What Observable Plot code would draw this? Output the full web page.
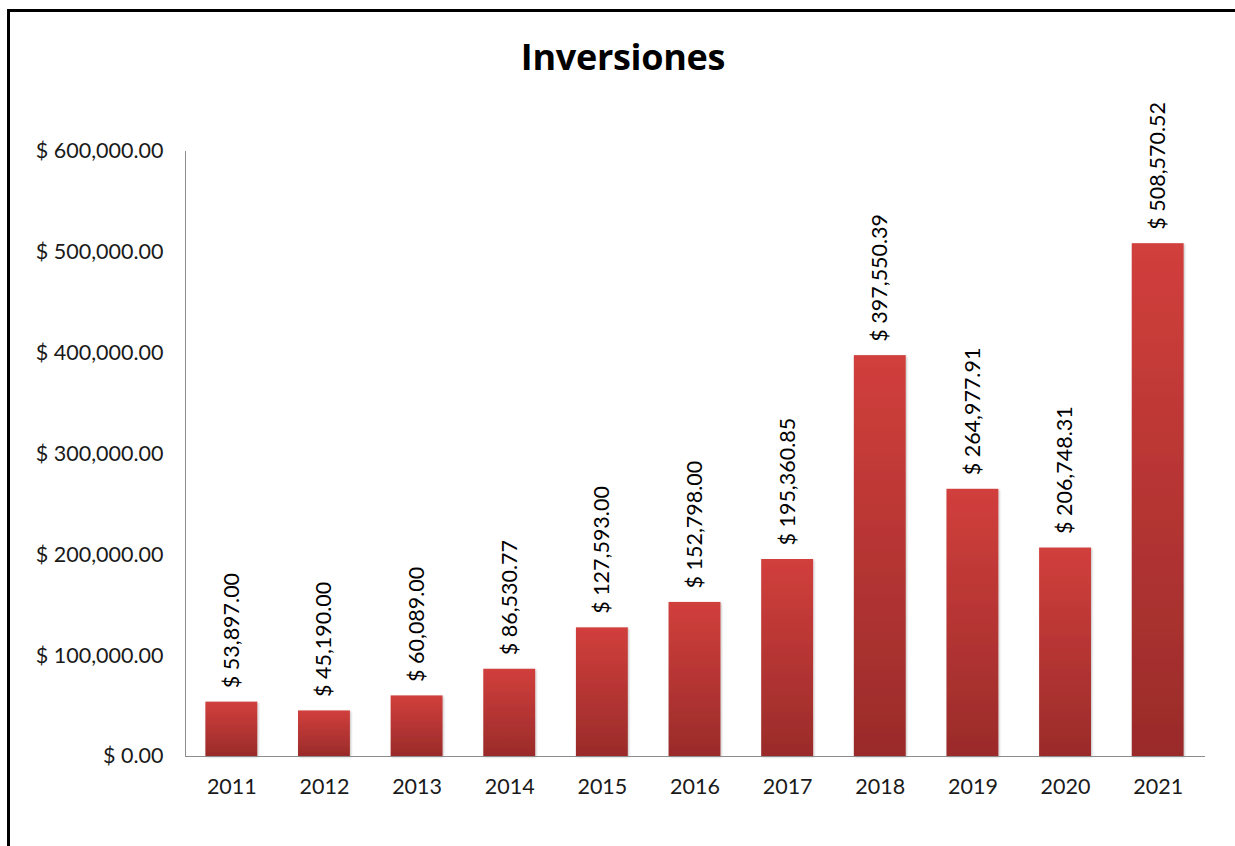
<!DOCTYPE html>
<html>
<head>
<meta charset="utf-8">
<script src="https://cdn.jsdelivr.net/npm/d3@7"></script>
<script src="https://cdn.jsdelivr.net/npm/@observablehq/plot@0.6"></script>
<style>
  html, body { margin: 0; padding: 0; background: #fff; width: 1235px; height: 846px; overflow: hidden; }
  #frame { position: absolute; left: 7px; top: 9px; width: 1240px; height: 900px; border-left: 3px solid #000; border-top: 3px solid #000; box-sizing: border-box; }
  #title { position: absolute; left: 0; width: 1246px; top: 32px; text-align: center; font-family: "Open Sans", sans-serif; font-weight: bold; font-size: 36px; color: #000; letter-spacing: -0.3px; }
  #chart { position: absolute; left: 0; top: 0; }
</style>
</head>
<body>
<div id="frame"></div>
<div id="chart"></div>
<div id="title">Inversiones</div>
<script>
const years = ["2011","2012","2013","2014","2015","2016","2017","2018","2019","2020","2021"];
const values = [53897.00, 45190.00, 60089.00, 86530.77, 127593.00, 152798.00, 195360.85, 397550.39, 264977.91, 206748.31, 508570.52];
const yTicks = [0, 100000, 200000, 300000, 400000, 500000, 600000];

const data = years.map((y, i) => ({year: y, value: values[i]}));
const money = v => "$ " + d3.format(",.2f")(v);

const defs = () => {
  const d = d3.create("svg:defs");
  const g = d.append("linearGradient").attr("id", "barGrad")
    .attr("x1", 0).attr("y1", 0).attr("x2", 0).attr("y2", 1);
  g.append("stop").attr("offset", "0%").attr("stop-color", "#d13f3c");
  g.append("stop").attr("offset", "100%").attr("stop-color", "#9a2b2a");
  const f = d.append("filter").attr("id", "shadow").attr("x", "-20%").attr("y", "-20%").attr("width", "140%").attr("height", "140%");
  f.append("feDropShadow").attr("dx", 1).attr("dy", 1).attr("stdDeviation", 1.2).attr("flood-color", "#000").attr("flood-opacity", 0.25);
  return d.node();
};

const FS = 21.5;
const chart = Plot.plot({
  width: 1235,
  height: 846,
  marginTop: 151,
  marginBottom: 90,
  marginLeft: 185,
  marginRight: 31,
  style: { fontFamily: "Lato, sans-serif", fontSize: FS + "px", color: "#1a1a1a", background: "transparent", overflow: "visible" },
  x: { domain: years, paddingInner: 0.44, paddingOuter: 0.22, round: false, label: null },
  y: { domain: [0, 600000], label: null },
  marks: [
    defs,
    Plot.axisY({ ticks: yTicks, tickFormat: money, tickSize: 0, tickPadding: 22, label: null, fontSize: FS }),
    Plot.axisX({ tickSize: 0, tickPadding: 22, label: null, fontSize: FS }),
    Plot.barY(data, { x: "year", y: "value", fill: "url(#barGrad)" }),
    Plot.frame({ anchor: "left", stroke: "#8c8c8c", strokeWidth: 1 }),
    Plot.frame({ anchor: "bottom", stroke: "#8c8c8c", strokeWidth: 1 }),
    Plot.text(data, { x: "year", y: "value", text: d => money(d.value), rotate: -90, textAnchor: "start", dy: -14, fontSize: FS, fill: "#000" })
  ]
});
chart.querySelectorAll("g[aria-label='bar'] rect").forEach(r => r.setAttribute("filter", "url(#shadow)"));
document.getElementById("chart").appendChild(chart);
</script>
</body>
</html>
